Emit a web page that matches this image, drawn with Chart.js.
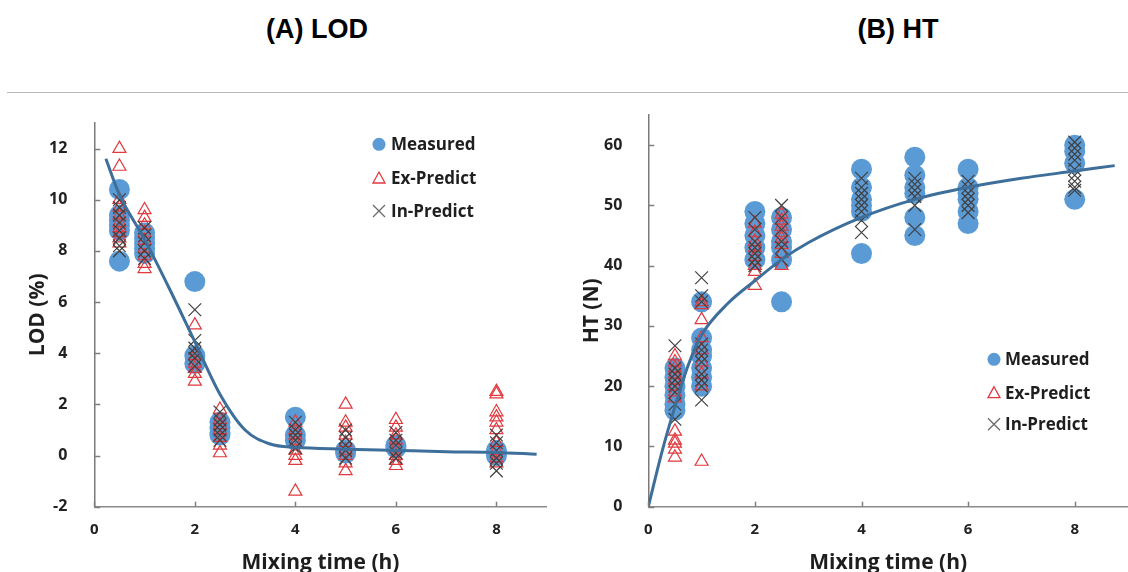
<!DOCTYPE html>
<html>
<head>
<meta charset="utf-8">
<script src="https://cdn.jsdelivr.net/npm/chart.js@4.4.1/dist/chart.umd.min.js"></script>
<style>
  body { margin: 0; background: #fff; width: 1128px; height: 572px; overflow: hidden; position: relative; }
  .panel-title { position: absolute; width: 240px; text-align: center; font: bold 27px "Liberation Sans", Arial, sans-serif; line-height: 27px; color: #000; }
  .rule { position: absolute; left: 7px; right: 0; top: 92px; height: 1px; background: #b8b8b8; }
  canvas { position: absolute; top: 100px; }
</style>
</head>
<body>
<div class="panel-title" style="left:197px; top:16px;">(A) LOD</div>
<div class="panel-title" style="left:778px; top:16px;">(B) HT</div>
<div class="rule"></div>
<canvas id="lodChart" width="564" height="472" style="left:0"></canvas>
<canvas id="htChart" width="564" height="472" style="left:564px"></canvas>
<script>
// sampling times (h)
const lodTimes = [0.5, 1, 2, 2.5, 4, 5, 6, 8];
const htTimes = [0.5, 1, 2, 2.5, 4, 5, 6, 8];
const htExTimes = [0.5, 1, 2, 2.5];

// LOD (%) per sampling time
const lodMeasured = [
  [10.4, 9.4, 9.2, 9.0, 8.8, 7.6],
  [8.7, 8.5, 8.3, 8.1, 7.9],
  [6.8, 3.9, 3.6],
  [1.3, 1.1, 0.9, 0.8],
  [1.5, 0.8, 0.6],
  [0.2, 0.1],
  [0.4, 0.3],
  [0.2, 0.0]
];
const lodExPredict = [
  [12.0, 11.3, 10.0, 9.7, 9.4, 9.1, 8.9, 8.7, 8.5, 8.3],
  [9.6, 9.3, 9.0, 8.7, 8.4, 8.1, 7.8, 7.5, 7.3],
  [5.1, 3.9, 3.6, 3.4, 3.2, 2.9],
  [1.8, 1.4, 1.2, 1.0, 0.7, 0.4, 0.1],
  [1.3, 1.0, 0.8, 0.5, 0.2, 0.0, -0.2, -1.4],
  [2.0, 1.3, 1.1, 0.8, 0.5, 0.2, 0.0, -0.3, -0.6],
  [1.4, 1.1, 0.8, 0.6, 0.3, 0.0, -0.2, -0.4],
  [2.5, 2.4, 1.7, 1.5, 1.3, 1.0, 0.5, 0.2, -0.1, -0.3]
];
const lodInPredict = [
  [10.0, 9.7, 9.4, 9.1, 8.8, 8.5, 8.2, 8.0],
  [8.9, 8.6, 8.3, 8.0, 7.7],
  [5.7, 4.5, 4.2, 4.0, 3.8, 3.5],
  [1.7, 1.4, 1.2, 1.0, 0.8, 0.6],
  [1.3, 1.0, 0.8, 0.6, 0.3],
  [1.0, 0.7, 0.4, 0.2, -0.1],
  [0.9, 0.6, 0.4, 0.1, -0.1],
  [0.8, 0.5, 0.2, -0.1, -0.3, -0.6]
];
const lodFitX = [0.23, 0.5, 1, 1.5, 2, 2.5, 3, 3.5, 4, 5, 6, 7, 8, 8.8];
const lodFitY = [11.6, 10.2, 8.45, 6.5, 4.45, 2.4, 1.0, 0.45, 0.32, 0.25, 0.2, 0.15, 0.12, 0.05];

// HT (N) per sampling time
const htMeasured = [
  [23, 21.5, 20, 18.5, 17, 16],
  [34, 28, 26, 25, 23, 21.5, 20],
  [49, 47, 45, 43, 41],
  [48, 46, 44, 43, 41, 34],
  [56, 53, 51, 50, 49, 42],
  [58, 55, 53, 52, 48, 45],
  [56, 53, 52, 51, 49, 47],
  [60, 59, 57, 51]
];
const htExPredict = [
  [25, 24, 23, 22, 21, 20, 19, 18, 12.5, 11, 10.5, 9.5, 8.2],
  [34, 33.5, 31, 28, 26, 24, 22, 20, 7.5],
  [47, 45.5, 44, 43, 41.5, 40, 39, 36.7],
  [48.5, 47.5, 46.5, 45.5, 44.5, 43.5, 42, 40]
];
const htInPredict = [
  [26.7, 23, 22, 21, 20, 19, 17, 14.5],
  [38, 35, 34, 27, 26, 25, 24, 22, 21, 20, 17.7],
  [48, 46, 44, 43, 42, 41, 40],
  [50, 48, 46, 44, 43, 41],
  [54.5, 53, 52, 51, 50, 49, 47.5, 45.5],
  [54.5, 53.5, 52.5, 51.5, 50, 46],
  [54, 53, 52, 51, 50, 48.8],
  [60.5, 59.5, 58.5, 57.5, 56, 55, 54, 53, 52.5]
];
const htFitX = [0, 0.25, 0.5, 0.75, 1, 1.5, 2, 2.5, 3, 4, 5, 6, 7, 8, 8.75];
const htFitY = [0, 8.9, 16.6, 23.5, 28.5, 33.8, 37.5, 41, 43.8, 48, 51, 53, 54.5, 55.7, 56.6];

const seriesNames = ['Measured', 'Ex-Predict', 'In-Predict'];

const BLUE = '#5B9BD5';
const RED = '#E0393E';
const GREY = '#404040';
const FIT = '#3E6F9B';
const FONT = '"Open Sans", "DejaVu Sans", sans-serif';

function toPoints(times, groups) {
  const pts = [];
  times.forEach((t, i) => groups[i].forEach(v => pts.push({x: t, y: v})));
  return pts;
}
function zipXY(xs, ys) {
  return xs.map((x, i) => ({x: x, y: ys[i]}));
}

// short tick marks drawn inside the plot area
const innerTicks = {
  id: 'innerTicks',
  afterDraw(chart) {
    const ctx = chart.ctx, a = chart.chartArea;
    ctx.save();
    ctx.strokeStyle = '#7f7f7f';
    ctx.lineWidth = 1.5;
    const xs = chart.scales.x, ys = chart.scales.y;
    xs.ticks.forEach(t => {
      const px = Math.round(xs.getPixelForValue(t.value)) + 0.5;
      ctx.beginPath(); ctx.moveTo(px, a.bottom); ctx.lineTo(px, a.bottom - 5); ctx.stroke();
    });
    ys.ticks.forEach(t => {
      const py = Math.round(ys.getPixelForValue(t.value)) + 0.5;
      ctx.beginPath(); ctx.moveTo(a.left, py); ctx.lineTo(a.left + 6, py); ctx.stroke();
    });
    ctx.restore();
  }
};

// legend with marker glyphs, placed inside the plot
const markerLegend = {
  id: 'markerLegend',
  afterDraw(chart, args, opts) {
    const ctx = chart.ctx;
    ctx.save();
    ctx.font = 'bold 17px ' + FONT;
    ctx.textBaseline = 'middle';
    opts.rows.forEach((y, i) => {
      const x = opts.x;
      if (i === 0) {
        ctx.beginPath(); ctx.fillStyle = BLUE; ctx.arc(x, y, 6.5, 0, Math.PI * 2); ctx.fill();
      } else if (i === 1) {
        ctx.beginPath(); ctx.strokeStyle = RED; ctx.lineWidth = 1.3;
        ctx.moveTo(x, y - 6); ctx.lineTo(x + 6, y + 5); ctx.lineTo(x - 6, y + 5); ctx.closePath(); ctx.stroke();
      } else {
        ctx.beginPath(); ctx.strokeStyle = '#6a6a6a'; ctx.lineWidth = 1.3;
        ctx.moveTo(x - 6, y - 6); ctx.lineTo(x + 6, y + 6); ctx.moveTo(x + 6, y - 6); ctx.lineTo(x - 6, y + 6); ctx.stroke();
      }
      ctx.fillStyle = '#1e1e1e';
      ctx.fillText(seriesNames[i], opts.textX, y + 1);
    });
    ctx.restore();
  }
};

function buildChart(id, cfg) {
  const datasets = [
    {
      label: 'fit', data: zipXY(cfg.fitX, cfg.fitY), showLine: true,
      borderColor: FIT, borderWidth: 3, pointRadius: 0, fill: false,
      cubicInterpolationMode: 'monotone', order: 0
    },
    {
      label: seriesNames[2], data: cfg.inPts, pointStyle: 'crossRot', pointRadius: 9,
      borderColor: GREY, backgroundColor: GREY, pointBorderWidth: 1.2, order: 1, clip: false
    },
    {
      label: seriesNames[1], data: cfg.exPts, pointStyle: 'triangle', pointRadius: 7.5,
      borderColor: RED, backgroundColor: 'rgba(0,0,0,0)', pointBorderWidth: 1.2, order: 2, clip: false
    },
    {
      label: seriesNames[0], data: cfg.measPts, pointStyle: 'circle', pointRadius: 10.5,
      backgroundColor: BLUE, borderColor: BLUE, pointBorderWidth: 0, order: 3, clip: false
    }
  ];

  return new Chart(document.getElementById(id), {
    type: 'scatter',
    data: {datasets: datasets},
    options: {
      responsive: false,
      animation: false,
      events: [],
      layout: {padding: cfg.padding, autoPadding: false},
      plugins: {
        legend: {display: false},
        tooltip: {enabled: false},
        markerLegend: cfg.legend
      },
      scales: {
        x: {
          type: 'linear', min: 0, max: 9,
          afterFit: s => { s.height = cfg.xAxisHeight; s.paddingLeft = 0; s.paddingRight = 0; },
          grid: {display: false},
          border: {display: true, color: '#8a8a8a', width: 1.5},
          ticks: {stepSize: 2, includeBounds: false, padding: 6, color: '#222',
                  font: {family: FONT, size: 15, weight: 'bold'}},
          title: {display: true, text: 'Mixing time (h)', color: '#1e1e1e',
                  font: {family: FONT, size: 21, weight: 'bold', lineHeight: 0.8},
                  padding: {top: 0, bottom: 0.6}}
        },
        y: {
          type: 'linear', min: cfg.yMin, max: cfg.yMax,
          afterFit: s => { s.width = cfg.yAxisWidth; s.paddingTop = 0; s.paddingBottom = 0; },
          grid: {display: false},
          border: {display: true, color: '#7a7a7a', width: 1.5},
          ticks: {stepSize: cfg.yStep, includeBounds: false, padding: cfg.yTickPad, color: '#222',
                  font: {family: FONT, size: 16, weight: 'bold'}},
          title: {display: true, text: cfg.yTitle, color: '#1e1e1e',
                  font: {family: FONT, size: 21, weight: 'bold', lineHeight: 0.8},
                  padding: {top: cfg.yTitlePad, bottom: 0}}
        }
      }
    },
    plugins: [innerTicks, markerLegend]
  });
}

buildChart('lodChart', {
  measPts: toPoints(lodTimes, lodMeasured),
  exPts: toPoints(lodTimes, lodExPredict),
  inPts: toPoints(lodTimes, lodInPredict),
  fitX: lodFitX, fitY: lodFitY,
  yMin: -2, yMax: 13, yStep: 2, yTitle: 'LOD (%)',
  yAxisWidth: 94.3, xAxisHeight: 65.3, yTickPad: 19, yTitlePad: 30,
  padding: {top: 23, right: 17.3, left: 0, bottom: 0},
  legend: {x: 379, textX: 391, rows: [44.3, 78, 111]}
});

buildChart('htChart', {
  measPts: toPoints(htTimes, htMeasured),
  exPts: toPoints(htExTimes, htExPredict),
  inPts: toPoints(htTimes, htInPredict),
  fitX: htFitX, fitY: htFitY,
  yMin: 0, yMax: 65, yStep: 10, yTitle: 'HT (N)',
  yAxisWidth: 84.3, xAxisHeight: 65.3, yTickPad: 18, yTitlePad: 20,
  padding: {top: 15, right: 0, left: 0, bottom: 0},
  legend: {x: 430, textX: 441, rows: [259.3, 292.7, 324.3]}
});
</script>
</body>
</html>
